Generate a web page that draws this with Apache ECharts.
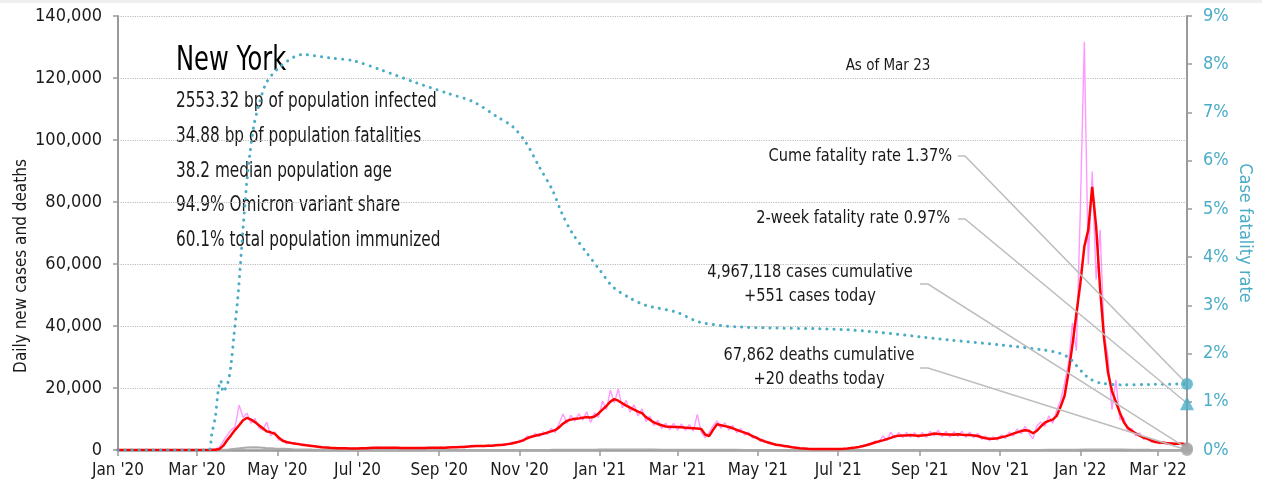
<!DOCTYPE html>
<html>
<head>
<meta charset="utf-8">
<script src="https://cdn.jsdelivr.net/npm/echarts@6/dist/echarts.min.js"></script>
<style>
  html, body { margin: 0; padding: 0; background: #fff; }
  #chart { width: 1262px; height: 491px; }
</style>
</head>
<body>
<div id="chart"></div>
<script>
// ---- data ----
const tickDates = ['2020-01-01','2020-03-01','2020-05-01','2020-07-01','2020-09-01','2020-11-01',
  '2021-01-01','2021-03-01','2021-05-01','2021-07-01','2021-09-01','2021-11-01','2022-01-01','2022-03-01'];
const tickLabels = ["Jan '20","Mar '20","May '20","Jul '20","Sep '20","Nov '20",
  "Jan '21","Mar '21","May '21","Jul '21","Sep '21","Nov '21","Jan '22","Mar '22"];
const firstDay = '2020-01-01';
const lastDay = '2022-03-23';

// daily cases (thousands), one value every 3 days from 2019-12-31
const caseGridStart = '2019-12-31';
const caseGridStep = 3;
const casesRawK = [
  0,0,0,0,0,0,0,0,0,0, 0,0,0,0,0,0,0,0,0,0, 0,
  0,0,0.05,0.1,0.3,0.9,2.9,4.8,6.5,7.6,
  14.5,10.5,11.9,8.6,10.2,7.2,6.4,9.0,4.6,5.9,
  3.2,3.6,2.0,2.6,1.8,2.2,1.4,1.7,1.1,1.4,
  0.9,1.0,0.7,0.8,0.6,0.7,0.5,0.65,0.45,0.6,
  0.5,0.65,0.5,0.8,0.6,0.9,0.65,0.85,0.6,0.8,
  0.6,0.75,0.55,0.75,0.55,0.75,0.55,0.8,0.6,0.8,
  0.6,0.9,0.65,0.95,0.75,1.0,0.8,1.2,0.9,1.6,
  1.1,1.5,1.1,1.6,1.2,1.7,1.4,2.0,1.7,2.5,
  2.1,3.2,2.8,4.6,3.9,5.4,4.3,5.9,5.0,7.0,
  5.6,8.5,11.6,8.6,11.2,9.3,11.7,9.6,12.3,8.9,
  12.0,10.5,15.8,13.0,19.4,15.2,19.7,13.6,16.0,12.2,
  14.6,11.0,13.3,9.2,11.0,7.9,9.6,6.9,8.7,6.5,
  8.6,6.4,8.4,6.3,8.2,6.1,11.5,5.8,4.0,5.6,
  7.8,9.4,7.0,8.8,6.4,7.9,5.6,6.9,4.8,5.8,
  3.8,4.4,2.8,3.2,2.0,2.3,1.4,1.7,1.1,1.3,
  0.75,0.85,0.5,0.6,0.35,0.4,0.25,0.35,0.25,0.35,
  0.25,0.35,0.3,0.5,0.45,0.8,0.7,1.2,1.1,1.9,
  1.7,2.9,2.4,4.6,3.0,5.8,3.8,5.6,4.0,5.7,
  4.1,5.6,3.9,5.7,4.0,6.0,4.5,6.4,4.3,6.0,
  4.2,5.9,4.3,6.1,4.1,5.8,3.9,5.4,3.4,4.5,
  3.0,4.3,3.2,4.9,3.7,5.8,4.5,6.8,5.2,7.6,
  5.4,3.6,7.8,9.0,7.6,11.0,8.6,12.8,16.0,21.5,
  28,41,32,78,131.7,60,89.8,55,71,38,
  30,13,22.6,9.7,10.5,6.0,7.0,4.5,5.5,3.4,
  4.1,2.6,3.0,2.0,2.6,1.8,2.4,1.7,2.3,1.8,
  0.551
];
const casesAvgK = [
  0,0,0,0,0,0,0,0,0,0, 0,0,0,0,0,0,0,0,0,0, 0,
  0,0,0,0.05,0.1,0.3,1.4,3.2,4.8,6.5,
  8.0,9.6,10.4,9.8,9.0,8.0,7.0,6.0,5.7,5.3,
  4.0,3.0,2.6,2.3,2.1,1.9,1.7,1.5,1.35,1.2,
  1.05,0.9,0.8,0.7,0.65,0.6,0.55,0.55,0.5,0.5,
  0.5,0.55,0.6,0.65,0.7,0.75,0.75,0.75,0.7,0.7,
  0.7,0.65,0.65,0.65,0.65,0.65,0.65,0.65,0.7,0.7,
  0.7,0.75,0.75,0.8,0.85,0.9,0.95,1.0,1.1,1.2,
  1.3,1.3,1.3,1.35,1.4,1.5,1.6,1.7,1.9,2.1,
  2.4,2.7,3.2,3.8,4.3,4.6,4.9,5.2,5.6,6.0,
  6.4,7.3,8.5,9.4,9.8,10.1,10.2,10.4,10.6,10.5,
  10.8,11.8,13.0,14.2,15.6,16.4,15.9,15.1,14.3,13.7,
  13.0,12.4,11.9,10.6,9.8,8.9,8.4,8.0,7.6,7.5,
  7.4,7.4,7.3,7.2,7.1,7.0,6.9,6.8,5.0,4.5,
  6.5,8.3,8.0,7.7,7.4,7.0,6.5,6.0,5.6,5.1,
  4.5,3.9,3.3,2.8,2.4,2.0,1.7,1.5,1.3,1.1,
  0.9,0.75,0.6,0.5,0.4,0.35,0.3,0.3,0.3,0.3,
  0.3,0.3,0.35,0.4,0.5,0.65,0.8,1.0,1.3,1.6,
  2.0,2.4,2.8,3.1,3.5,3.9,4.4,4.6,4.7,4.7,
  4.8,4.7,4.6,4.7,4.8,5.0,5.3,5.2,5.1,5.0,
  5.0,4.9,5.1,4.9,4.8,4.8,4.7,4.5,4.1,3.8,
  3.6,3.6,3.8,4.1,4.4,4.8,5.3,5.7,6.1,6.4,
  6.2,5.4,6.2,7.6,8.8,9.4,9.8,11.0,14.0,17.5,
  25.0,34.0,44.0,53.8,65.6,71.0,84.9,72.0,52.0,36.0,
  25.0,19.0,15.5,12.0,9.0,7.2,6.2,5.4,4.6,4.0,
  3.6,3.0,2.6,2.4,2.3,2.2,2.1,2.0,2.0,2.0,
  1.7
];

// daily deaths, one value every 7 days from 2020-01-01
const deathGridStart = '2020-01-01';
const deathGridStep = 7;
const deaths = [
  0,0,0,0,0,0,0,0,0,
  0,0,10,150,500,800,850,650,480,380,
  280,200,140,100,70,45,30,20,15,12,
  10,8,7,6,6,6,6,6,7,8,
  9,11,13,15,18,22,28,33,45,60,
  80,100,120,130,150,170,175,165,150,130,
  110,95,85,75,65,60,55,50,45,40,
  30,25,20,15,10,8,6,5,5,5,
  6,7,10,14,20,25,30,33,35,35,
  33,32,30,28,25,24,23,24,27,32,
  36,40,48,55,70,95,140,170,190,170,
  140,100,75,50,35,25,20,20
];

// case fatality rate (%)
const cfrDates = ['2020-01-01','2020-03-10','2020-03-12','2020-03-15','2020-03-17','2020-03-19',
  '2020-03-21','2020-03-23','2020-03-25','2020-03-27','2020-03-29','2020-04-01','2020-04-03',
  '2020-04-05','2020-04-08','2020-04-10','2020-04-13','2020-04-17','2020-04-23','2020-05-04',
  '2020-05-20','2020-06-10','2020-06-28','2020-07-19','2020-08-13','2020-09-07','2020-09-27',
  '2020-10-15','2020-10-27','2020-11-06','2020-11-16','2020-11-26','2020-12-03','2020-12-11',
  '2020-12-22','2021-01-01','2021-01-11','2021-01-24','2021-02-05','2021-02-28','2021-03-18',
  '2021-04-18','2021-07-10','2021-09-24','2021-11-01','2021-12-05','2021-12-17','2021-12-24',
  '2021-12-29','2022-01-03','2022-01-08','2022-01-16','2022-02-02','2022-02-23','2022-03-23'];
const cfrValues = [0,0,0.3,0.7,1.2,1.44,
  1.2,1.3,1.45,1.8,2.35,3.15,3.85,
  4.6,5.6,6.1,6.7,7.15,7.63,7.97,
  8.2,8.13,8.07,7.88,7.63,7.4,7.22,
  6.91,6.7,6.37,5.87,5.39,4.92,4.5,
  4.09,3.73,3.38,3.15,3.0,2.86,2.65,
  2.55,2.49,2.28,2.18,2.07,2.0,1.9,
  1.75,1.6,1.48,1.39,1.35,1.36,1.37];

const cumeCfr = 1.37;
const twoWeekCfr = 0.97;
const casesToday = 551;
const deathsToday = 20;

const titleText = 'New York';
const statLines = ['2553.32 bp of population infected', '34.88 bp of population fatalities',
  '38.2 median population age', '94.9% Omicron variant share', '60.1% total population immunized'];
const noteTexts = ['Cume fatality rate 1.37%', '2-week fatality rate 0.97%',
  '4,967,118 cases cumulative\n+551 cases today', '67,862 deaths cumulative\n+20 deaths today'];

// ---- styling / layout ----
const FONT = "'DejaVu Sans Condensed', 'Liberation Sans Narrow', 'Roboto Condensed', 'Arial Narrow', sans-serif";
const BLUE = '#4bacc6';
const AXIS_GRAY = '#9a9a9a';
const INK = '#1a1a1a';
// label anchor (right edge or centre), line start in pixels
const noteLayout = [
  { x: 952, y: 156, align: 'right', lx0: 958, lx1: 965, ly: 156 },
  { x: 950, y: 218, align: 'right', lx0: 958, lx1: 965, ly: 219 },
  { x: 810, y: 284, align: 'center', lx0: 920, lx1: 928, ly: 284 },
  { x: 819, y: 367, align: 'center', lx0: 920, lx1: 928, ly: 368 }
];

function parseDay(s) {
  const p = s.split('-');
  return new Date(+p[0], +p[1] - 1, +p[2]).getTime();
}
function gridDates(start, step, n) {
  const t0 = new Date(parseDay(start));
  return Array.from({ length: n }, (_, i) =>
    new Date(t0.getFullYear(), t0.getMonth(), t0.getDate() + i * step).getTime());
}

const caseTimes = gridDates(caseGridStart, caseGridStep, casesRawK.length);
const deathTimes = gridDates(deathGridStart, deathGridStep, deaths.length);
const tickTimes = tickDates.map(parseDay);
const endTime = parseDay(lastDay);

function tickLabelFor(v) {
  let best = 0;
  tickTimes.forEach((t, i) => { if (Math.abs(t - v) < Math.abs(tickTimes[best] - v)) best = i; });
  return Math.abs(tickTimes[best] - v) < 86400000 ? tickLabels[best] : '';
}

const rawData = caseTimes.map((t, i) => [t, casesRawK[i] * 1000]);
const avgData = caseTimes.map((t, i) => [t, casesAvgK[i] * 1000]);
const deathData = deathTimes.map((t, i) => [t, deaths[i]]);
const cfrData = cfrDates.map((d, i) => [parseDay(d), cfrValues[i]]);

function renderNote(params, api) {
  const k = api.value(2);
  const lay = noteLayout[k];
  const end = api.coord([api.value(0), api.value(1)]);
  return {
    type: 'group',
    children: [
      {
        type: 'polyline',
        shape: { points: [[lay.lx0, lay.ly], [lay.lx1, lay.ly], end] },
        style: { stroke: '#bdbdbd', lineWidth: 1.5, fill: null }
      },
      {
        type: 'text',
        x: lay.x, y: lay.y, scaleX: 0.9,
        style: {
          text: noteTexts[k], fill: INK, fontSize: 18, fontFamily: FONT,
          align: lay.align, verticalAlign: 'middle', lineHeight: 24
        }
      }
    ]
  };
}

const chart = echarts.init(document.getElementById('chart'));

const graphics = [
  { type: 'rect', x: 0, y: 0, shape: { width: 1262, height: 3 }, style: { fill: '#efefef' } },
  { type: 'text', x: 176, y: 61, scaleX: 0.79,
    style: { text: titleText, fontSize: 34, fontFamily: FONT, fill: '#000', verticalAlign: 'middle' } },
  { type: 'text', x: 888, y: 66,
    style: { text: 'As of Mar 23', fontSize: 15, fontFamily: FONT, fill: INK, align: 'center', verticalAlign: 'middle' } },
  { type: 'text', x: 22, y: 266, rotation: Math.PI / 2,
    style: { text: 'Daily new cases and deaths', fontSize: 17, fontFamily: FONT, fill: INK, align: 'center', verticalAlign: 'middle' } },
  { type: 'text', x: 1245, y: 233, rotation: -Math.PI / 2,
    style: { text: 'Case fatality rate', fontSize: 18, fontFamily: FONT, fill: BLUE, align: 'center', verticalAlign: 'middle' } }
];
statLines.forEach((s, i) => {
  graphics.push({ type: 'text', x: 176, y: 101.5 + i * 34.8, scaleX: 0.81,
    style: { text: s, fontSize: 21, fontFamily: FONT, fill: INK, verticalAlign: 'middle' } });
});

const option = {
  animation: false,
  backgroundColor: '#fff',
  textStyle: { fontFamily: FONT },
  grid: { left: 118, right: 75, top: 16, bottom: 41 },
  xAxis: {
    type: 'value',
    min: parseDay(firstDay),
    max: endTime,
    axisLine: { show: true, lineStyle: { color: AXIS_GRAY, width: 2.5 } },
    axisTick: { show: true, customValues: tickTimes, length: 6, lineStyle: { color: AXIS_GRAY, width: 1.5 } },
    axisLabel: {
      customValues: tickTimes,
      formatter: tickLabelFor,
      color: INK, fontSize: 17, fontFamily: FONT, margin: 12
    },
    splitLine: { show: false }
  },
  yAxis: [
    {
      type: 'value', min: 0, max: 140000, interval: 20000,
      axisLine: { show: true, lineStyle: { color: AXIS_GRAY, width: 2 } },
      axisTick: { show: true, length: 5, lineStyle: { color: AXIS_GRAY, width: 1.5 } },
      axisLabel: { formatter: (v) => v.toLocaleString('en-US'), color: INK, fontSize: 18, fontFamily: FONT, margin: 16 },
      splitLine: { show: true, lineStyle: { color: '#bbbbbb', type: 'dotted', width: 1.2 } }
    },
    {
      type: 'value', min: 0, max: 9, interval: 1, position: 'right',
      axisLine: { show: true, lineStyle: { color: AXIS_GRAY, width: 2 } },
      axisTick: { show: true, length: 5, lineStyle: { color: AXIS_GRAY, width: 1.5 } },
      axisLabel: { formatter: '{value}%', color: BLUE, fontSize: 18, fontFamily: FONT, margin: 16 },
      splitLine: { show: false }
    }
  ],
  graphic: graphics,
  series: [
    {
      name: 'Deaths', type: 'line', data: deathData, showSymbol: false, z: 2,
      lineStyle: { color: '#aaaaaa', width: 2 }
    },
    {
      name: 'Daily cases', type: 'line', data: rawData, showSymbol: false, z: 3,
      lineStyle: { color: '#ff99ff', width: 1.4 }
    },
    {
      name: 'Cases 7-day avg', type: 'line', data: avgData, showSymbol: false, z: 4,
      lineStyle: { color: '#ff0000', width: 2.5 }
    },
    {
      name: 'Case fatality rate', type: 'line', yAxisIndex: 1, data: cfrData, showSymbol: false, z: 5,
      smooth: 0.3,
      lineStyle: { color: BLUE, width: 3, type: [0.1, 7], cap: 'round' }
    },
    {
      type: 'custom', yAxisIndex: 1, clip: false, z: 6, renderItem: renderNote,
      data: [[endTime, cumeCfr, 0], [endTime, twoWeekCfr, 1]]
    },
    {
      type: 'custom', yAxisIndex: 0, clip: false, z: 6, renderItem: renderNote,
      data: [[endTime, casesToday, 2], [endTime, deathsToday, 3]]
    },
    {
      type: 'scatter', yAxisIndex: 1, z: 8, symbol: 'circle', symbolSize: 12,
      itemStyle: { color: BLUE }, data: [[endTime, cumeCfr]]
    },
    {
      type: 'scatter', yAxisIndex: 1, z: 8, symbol: 'triangle', symbolSize: 14,
      itemStyle: { color: BLUE }, data: [[endTime, twoWeekCfr]]
    },
    {
      type: 'scatter', yAxisIndex: 0, z: 8, symbol: 'circle', symbolSize: 12,
      itemStyle: { color: '#a6a6a6' }, data: [[endTime, casesToday], [endTime, deathsToday]]
    }
  ]
};

chart.setOption(option);
</script>
</body>
</html>
